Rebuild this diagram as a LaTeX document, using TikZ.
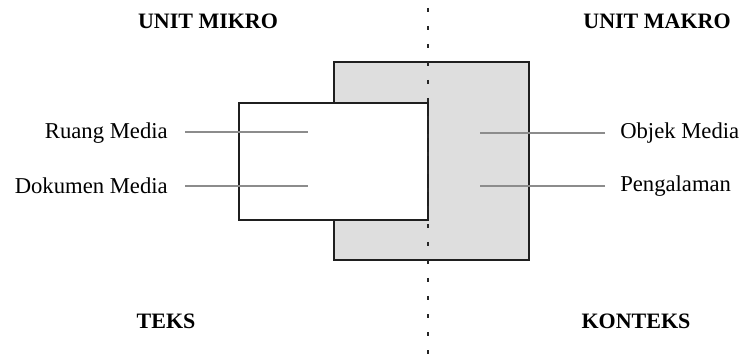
\documentclass[tikz,border=0pt]{standalone}
\usepackage{fontspec}
\setmainfont{Liberation Serif}
\tikzset{
  box/.style={draw=black!88, line width=1.6pt},
  lbl/.style={inner sep=0pt, font=\fontsize{17}{20}\selectfont},
  hdr/.style={inner sep=0pt, font=\fontsize{16.5}{20}\selectfont\bfseries},
  leader/.style={draw=black!45, line width=0.8pt},
  divider/.style={draw=black!85, line width=2pt, dash pattern=on 3pt off 10.5pt}
}
\begin{document}
\begin{tikzpicture}[x=0.75pt,y=-0.75pt]
\useasboundingbox (0,0) rectangle (743,356);
% rectangles
\draw[box, fill=black!13] (334,62) rectangle (529,260);
\draw[box, fill=white] (239,103) rectangle (428,220);
% divider
\coordinate (dtop) at (428,8);
\coordinate (dbot) at (428,356);
\draw[divider] (dtop) -- (dbot);
% headers
\node[hdr] (mikro) at (208,21) {UNIT MIKRO};
\node[hdr] (makro) at (657,21) {UNIT MAKRO};
\node[hdr] (teks) at (166,321) {TEKS};
\node[hdr] (konteks) at (636,321) {KONTEKS};
% labels
\node[lbl, anchor=east] (ruang) at (168,133) {Ruang Media};
\node[lbl, anchor=east] (dok) at (168,186) {Dokumen Media};
\node[lbl, anchor=west] (objek) at (620,133) {Objek Media};
\node[lbl, anchor=west] (peng) at (620,186) {Pengalaman};
% leader ends
\coordinate (r1) at (308,132);
\coordinate (r2) at (308,186);
\coordinate (o1) at (480,133);
\coordinate (o2) at (480,186);
\draw[leader] (185,132) coordinate (rs) -- (r1);
\draw[leader] (185,186) coordinate (ds) -- (r2);
\draw[leader] (605,133) coordinate (os) -- (o1);
\draw[leader] (605,186) coordinate (ps) -- (o2);
\end{tikzpicture}
\end{document}
